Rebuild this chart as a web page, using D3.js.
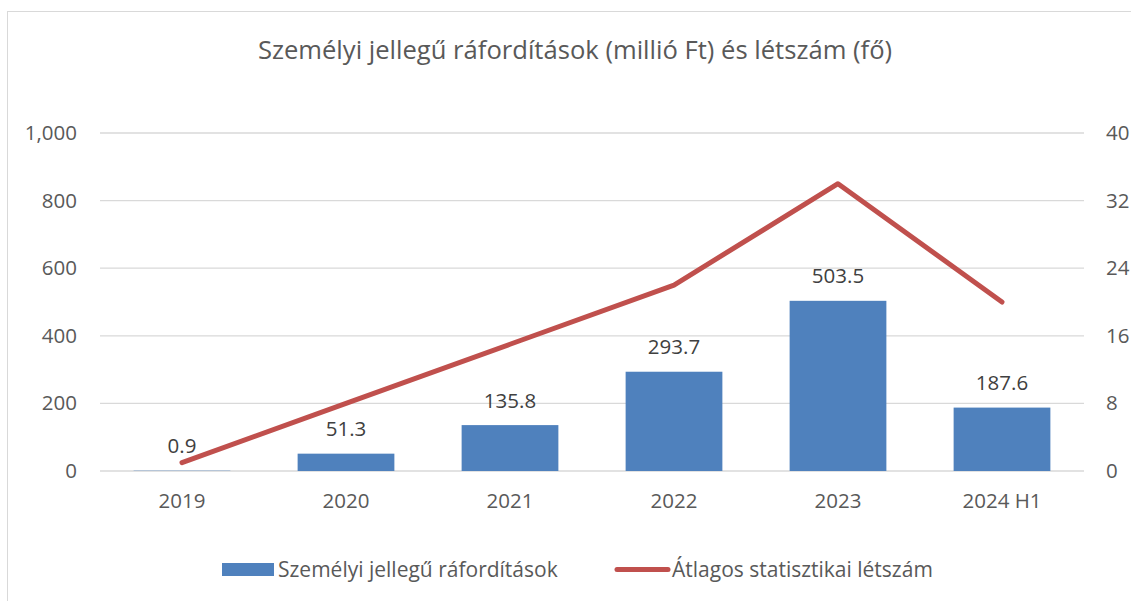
<!DOCTYPE html>
<html>
<head>
<meta charset="utf-8">
<script src="https://cdn.jsdelivr.net/npm/d3@7"></script>
<style>
  body { margin: 0; background: #fff; }
  svg { display: block; font-family: "Open Sans", sans-serif; }
</style>
</head>
<body>
<svg width="1131" height="601"></svg>
<script>
// adatok
const categories = ['2019', '2020', '2021', '2022', '2023', '2024 H1'];
const costs = [0.9, 51.3, 135.8, 293.7, 503.5, 187.6];      // millió Ft
const headcount = [1, 8, 15, 22, 34, 20];                    // fő
const leftTicks = [0, 200, 400, 600, 800, 1000];
const rightTicks = [0, 8, 16, 24, 32, 40];

const svg = d3.select('svg');

// keret
svg.append('rect')
  .attr('x', 7.5).attr('y', 11.5)
  .attr('width', 1140).attr('height', 600)
  .attr('fill', 'none').attr('stroke', '#d9d9d9');

svg.append('text')
  .attr('x', 575).attr('y', 59)
  .attr('text-anchor', 'middle')
  .attr('font-size', 25.6)
  .attr('fill', '#595959')
  .text('Személyi jellegű ráfordítások (millió Ft) és létszám (fő)');

const x = d3.scaleBand().domain(categories).range([100, 1084]).paddingInner(0.41).paddingOuter(0.205);
const y = d3.scaleLinear().domain([0, 1000]).range([471, 133]);
const y2 = d3.scaleLinear().domain([0, 40]).range([471, 133]);

// rácsvonalak
svg.append('g')
  .selectAll('line')
  .data(leftTicks)
  .enter().append('line')
  .attr('x1', 100).attr('x2', 1084)
  .attr('y1', d => y(d)).attr('y2', d => y(d))
  .attr('stroke', '#d9d9d9').attr('stroke-width', 1.3);

// bal tengely
svg.append('g')
  .selectAll('text')
  .data(leftTicks)
  .enter().append('text')
  .attr('x', 77).attr('y', d => y(d) + 7)
  .attr('text-anchor', 'end')
  .attr('font-size', 20.5)
  .attr('fill', '#595959')
  .text(d => d3.format(',')(d));

// jobb tengely
svg.append('g')
  .selectAll('text')
  .data(rightTicks)
  .enter().append('text')
  .attr('x', 1106).attr('y', d => y2(d) + 7)
  .attr('font-size', 20.5)
  .attr('fill', '#595959')
  .text(d => d);

// x tengely
svg.append('g')
  .selectAll('text')
  .data(categories)
  .enter().append('text')
  .attr('x', d => x(d) + x.bandwidth() / 2).attr('y', 508)
  .attr('text-anchor', 'middle')
  .attr('font-size', 20.5)
  .attr('fill', '#595959')
  .text(d => d);

// oszlopok
svg.append('g')
  .selectAll('rect')
  .data(costs)
  .enter().append('rect')
  .attr('x', (d, i) => x(categories[i]))
  .attr('y', d => y(d))
  .attr('width', x.bandwidth())
  .attr('height', d => y(0) - y(d))
  .attr('fill', '#4f81bd');

// vonal
const line = d3.line()
  .x((d, i) => x(categories[i]) + x.bandwidth() / 2)
  .y(d => y2(d));

svg.append('path')
  .datum(headcount)
  .attr('d', line)
  .attr('fill', 'none')
  .attr('stroke', '#c0504d')
  .attr('stroke-width', 5)
  .attr('stroke-linecap', 'round')
  .attr('stroke-linejoin', 'round');

// adatcímkék
svg.append('g')
  .selectAll('text')
  .data(costs)
  .enter().append('text')
  .attr('x', (d, i) => x(categories[i]) + x.bandwidth() / 2)
  .attr('y', d => y(d) - 17.5)
  .attr('text-anchor', 'middle')
  .attr('font-size', 20.5)
  .attr('fill', '#404040')
  .text(d => d3.format('.1f')(d));

// jelmagyarázat
const legend = svg.append('g');
legend.append('rect')
  .attr('x', 222).attr('y', 563).attr('width', 52).attr('height', 13)
  .attr('fill', '#4f81bd');
legend.append('text')
  .attr('x', 278).attr('y', 577)
  .attr('font-size', 21)
  .attr('fill', '#595959')
  .text('Személyi jellegű ráfordítások');
legend.append('line')
  .attr('x1', 617).attr('x2', 668).attr('y1', 569.5).attr('y2', 569.5)
  .attr('stroke', '#c0504d').attr('stroke-width', 5).attr('stroke-linecap', 'round');
legend.append('text')
  .attr('x', 672).attr('y', 577)
  .attr('font-size', 21)
  .attr('fill', '#595959')
  .text('Átlagos statisztikai létszám');
</script>
</body>
</html>
